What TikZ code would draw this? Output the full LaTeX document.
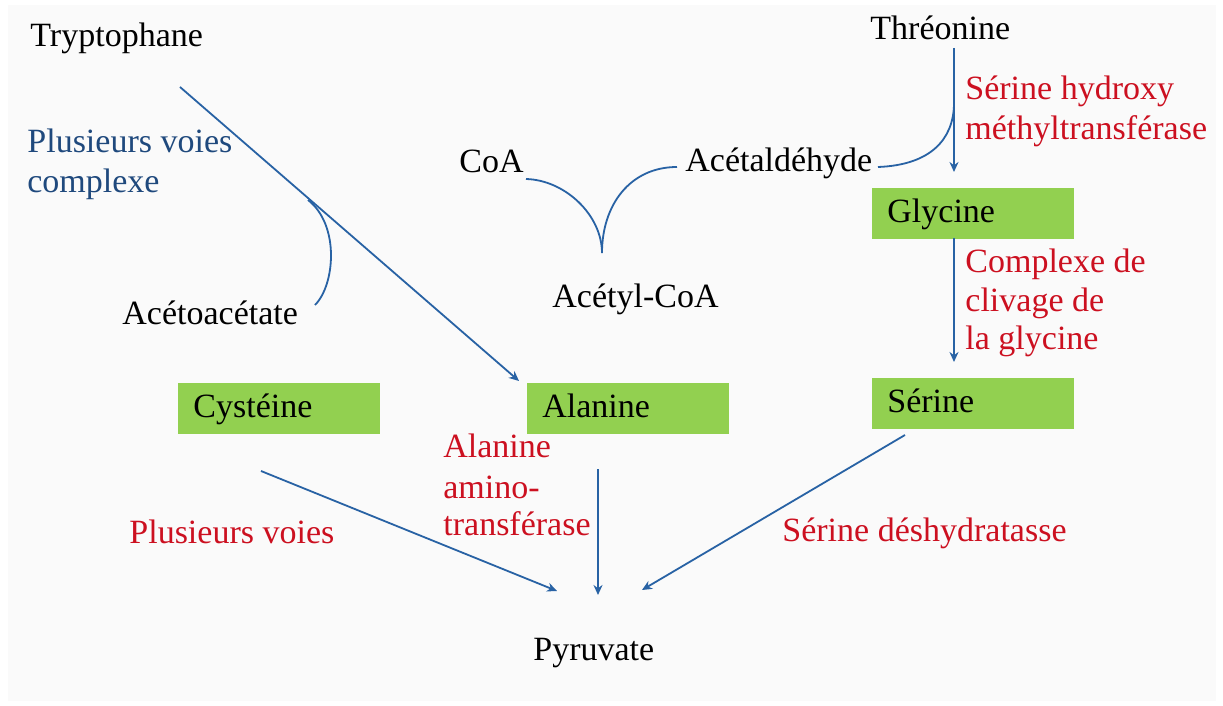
\documentclass[tikz,border=0pt]{standalone}
\usepackage{fontspec}
\setmainfont{Liberation Serif}
\usetikzlibrary{arrows.meta}
\definecolor{leaf}{HTML}{92D050}
\definecolor{enzred}{RGB}{204,16,32}
\definecolor{routeblue}{HTML}{1F497D}
\definecolor{flow}{RGB}{40,98,164}
\definecolor{panel}{HTML}{FAFAFA}
\begin{document}
\begin{tikzpicture}[x=0.5pt,y=-0.5pt,
  lbl/.style={anchor=base west,inner sep=0pt,font=\fontsize{17}{20}\selectfont},
  enz/.style={lbl,text=enzred},
  route/.style={lbl,text=routeblue},
  amino/.style={anchor=north west,fill=leaf,inner xsep=7.5pt,inner ysep=0pt,
    minimum height=25.5pt,text width=86pt,align=left,text height=12pt,
    text depth=3pt,font=\fontsize{17}{20}\selectfont},
  flowline/.style={draw=flow,line width=0.9pt},
  flowarrow/.style={flowline,-{Stealth[length=5pt,width=4.5pt]}}
]
% page and panel
\useasboundingbox (0,0) rectangle (1223,706);
\fill[white] (0,0) rectangle (1223,706);
\fill[panel] (8,5) rectangle (1216,701);

% metabolites
\node[lbl] (trp) at (30,47) {Tryptophane};
\node[lbl] (thr) at (870,40) {Thréonine};
\node[lbl] (aceto) at (122,325) {Acétoacétate};
\node[lbl] (coa) at (459,173) {CoA};
\node[lbl] (acald) at (685,172) {Acétaldéhyde};
\node[lbl] (acoa) at (552,307) {Acétyl-CoA};
\node[lbl] (pyr) at (533,660) {Pyruvate};

% amino acids in green boxes
\node[amino] (gly) at (872,188) {Glycine};
\node[amino] (ser) at (872,378) {Sérine};
\node[amino] (cys) at (178,383) {Cystéine};
\node[amino] (ala) at (527,383) {Alanine};

% pathway labels
\node[route] (pvc1) at (27,153) {Plusieurs voies};
\node[route] (pvc2) at (27,193) {complexe};
\node[enz] (shmt1) at (965,100) {Sérine hydroxy};
\node[enz] (shmt2) at (965,140) {méthyltransférase};
\node[enz] (gcs1) at (965,273) {Complexe de};
\node[enz] (gcs2) at (965,312) {clivage de};
\node[enz] (gcs3) at (965,350) {la glycine};
\node[enz] (alat1) at (443,458) {Alanine};
\node[enz] (alat2) at (443,498) {amino-};
\node[enz] (alat3) at (443,535) {transférase};
\node[enz] (pv) at (129,543) {Plusieurs voies};
\node[enz] (sdh) at (782,541) {Sérine déshydratasse};

% connector end points
\coordinate (trpS) at (180,87);
\coordinate (trpE) at (519,381);
\coordinate (acetoS) at (315,305);
\coordinate (acetoJ) at (308,200);
\coordinate (coaS) at (526,179);
\coordinate (acaldS) at (677,167);
\coordinate (acoaE) at (602,253);
\coordinate (thrS) at (954,48);
\coordinate (thrJ) at (954,105);
\coordinate (glyT) at (954,172);
\coordinate (acaldE) at (878,167);
\coordinate (glyS) at (954,238);
\coordinate (serT) at (954,362);
\coordinate (cysS) at (261,471);
\coordinate (pyrL) at (557,591);
\coordinate (alaS) at (598,469);
\coordinate (pyrC) at (598,595);
\coordinate (serS) at (905,435);
\coordinate (pyrR) at (642,590);

% tryptophane branch
\draw[flowarrow] (trpS) -- (trpE);
\draw[flowline] (acetoS) .. controls (335,285) and (340,225) .. (acetoJ);

% acetyl-CoA formation
\draw[flowline] (coaS) .. controls (565,180) and (602,215) .. (acoaE);
\draw[flowline] (acaldS) .. controls (630,167) and (602,205) .. (acoaE);

% threonine to glycine to serine
\draw[flowarrow] (thrS) -- (glyT);
\draw[flowline] (acaldE) .. controls (930,165) and (953,140) .. (thrJ);
\draw[flowarrow] (glyS) -- (serT);

% routes to pyruvate
\draw[flowarrow] (cysS) -- (pyrL);
\draw[flowarrow] (alaS) -- (pyrC);
\draw[flowarrow] (serS) -- (pyrR);
\end{tikzpicture}
\end{document}
